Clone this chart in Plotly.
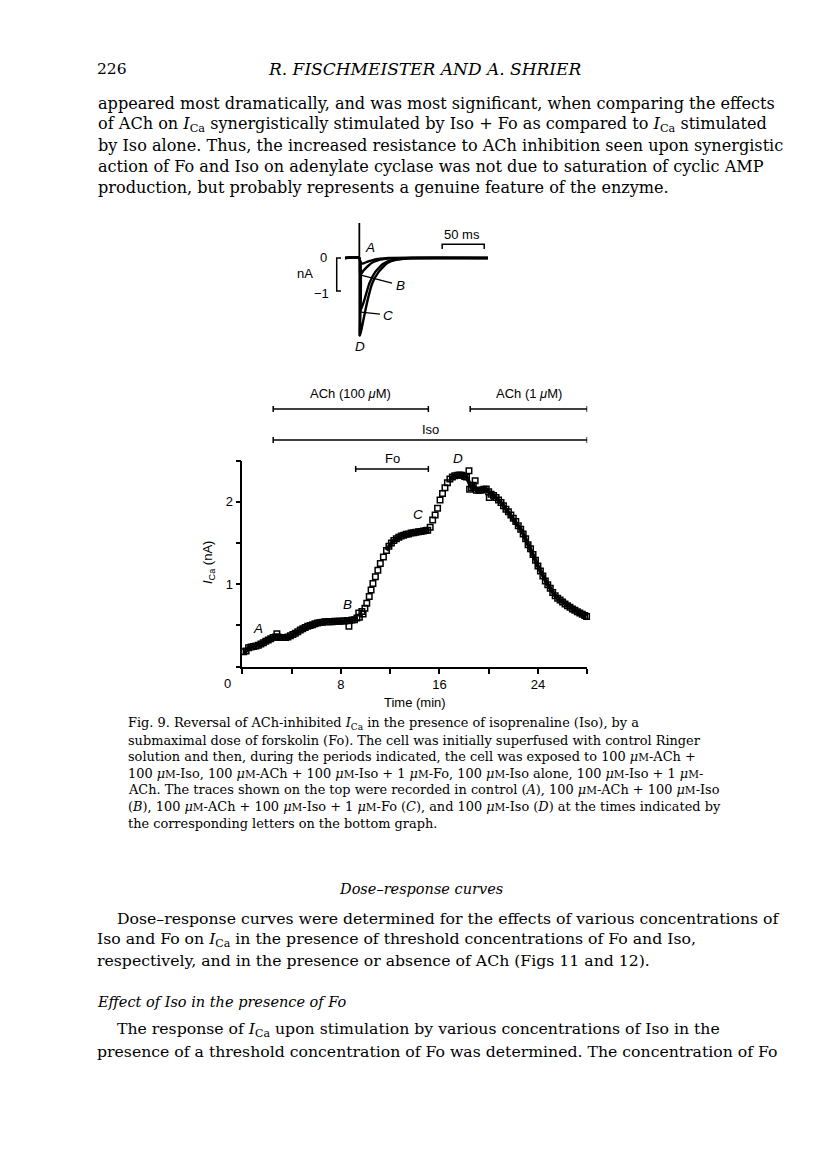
import plotly.graph_objects as go

# the page body keeps its default 8px margin, so the figure is drawn 8px in
OFF = 8
W, H = 816 - OFF, 1170 - OFF


def px(x):
    return (x - OFF) / W


def py(y):
    return 1 - (y - OFF) / H


# ─────────────────────────────────────────────
# Bottom graph: I_Ca (nA) against time (min)
# ─────────────────────────────────────────────
t_control = [0.1, 0.3, 0.5, 0.7, 0.9, 1.1, 1.3, 1.5, 1.7, 1.9, 2.1, 2.3, 2.5]
i_control = [0.18, 0.19, 0.23, 0.24, 0.245, 0.25, 0.26, 0.275, 0.29, 0.31, 0.325, 0.34, 0.355]

t_ach_iso = [2.7, 2.8, 2.9, 3.1, 3.3, 3.5, 3.7, 3.9, 4.1, 4.3, 4.5, 4.7, 4.9, 5.1, 5.3, 5.5,
             5.7, 5.9, 6.1, 6.3, 6.5, 6.7, 6.9, 7.1, 7.3, 7.5, 7.7, 7.9, 8.1, 8.3, 8.5, 8.65,
             8.7, 8.9, 9.1]
i_ach_iso = [0.36, 0.40, 0.36, 0.355, 0.355, 0.355, 0.36, 0.375, 0.39, 0.405, 0.425, 0.445,
             0.46, 0.475, 0.49, 0.50, 0.51, 0.52, 0.53, 0.535, 0.54, 0.545, 0.545, 0.545,
             0.545, 0.55, 0.55, 0.55, 0.555, 0.555, 0.56, 0.49, 0.56, 0.565, 0.57]

t_fo = [9.3, 9.45, 9.5, 9.7, 9.8, 9.95, 10.1, 10.3, 10.45, 10.6, 10.8, 11.0, 11.2, 11.45,
        11.7, 11.9, 12.1, 12.3, 12.5, 12.7, 12.9, 13.1, 13.3, 13.5, 13.7, 13.9, 14.1, 14.3,
        14.5, 14.7, 14.9, 15.05]
i_fo = [0.59, 0.65, 0.60, 0.67, 0.64, 0.71, 0.77, 0.85, 0.93, 1.01, 1.09, 1.17, 1.25, 1.33,
        1.41, 1.46, 1.50, 1.53, 1.55, 1.57, 1.585, 1.595, 1.605, 1.61, 1.62, 1.625, 1.63,
        1.635, 1.64, 1.645, 1.65, 1.655]

t_iso = [15.25, 15.45, 15.65, 15.85, 16.05, 16.25, 16.45, 16.65, 16.85, 17.05, 17.25, 17.45,
         17.65, 17.85, 18.05, 18.2, 18.4, 18.45, 18.6, 18.75, 18.9, 19.0, 19.2, 19.4]
i_iso = [1.69, 1.78, 1.84, 1.92, 2.02, 2.10, 2.17, 2.23, 2.275, 2.30, 2.315, 2.32, 2.325, 2.32,
         2.305, 2.30, 2.375, 2.15, 2.17, 2.20, 2.255, 2.14, 2.14, 2.14]

t_ach1 = [19.6, 19.8, 20.0, 20.05, 20.2, 20.4, 20.6, 20.8, 21.0, 21.2, 21.4, 21.6, 21.8, 22.0,
          22.2, 22.4, 22.6, 22.8, 23.0, 23.2, 23.4, 23.6, 23.8, 24.0, 24.2, 24.4, 24.6, 24.8,
          25.0, 25.2, 25.4, 25.6, 25.8, 26.0, 26.2, 26.4, 26.6, 26.8, 27.0, 27.2, 27.4, 27.6,
          27.8, 27.95]
i_ach1 = [2.15, 2.155, 2.12, 2.05, 2.09, 2.075, 2.05, 2.02, 1.99, 1.95, 1.91, 1.88, 1.84, 1.80,
          1.76, 1.71, 1.665, 1.61, 1.55, 1.48, 1.43, 1.36, 1.29, 1.22, 1.16, 1.10, 1.04, 0.995,
          0.95, 0.90, 0.86, 0.83, 0.81, 0.785, 0.76, 0.74, 0.72, 0.70, 0.685, 0.665, 0.65, 0.635,
          0.62, 0.61]

# stray squares that stand apart from the dense band
outlier_t = [2.8, 8.65, 9.45, 9.7, 18.4, 18.45, 18.9, 20.05]
# fast rises, where the squares are drawn one by one
open_windows = [(9.35, 11.5), (15.1, 16.8)]

x_ticks = [0, 4, 8, 12, 16, 20, 24, 28]
x_ticktext = ["", "", "8", "", "16", "", "24", ""]
y_ticks = [0, 0.5, 1, 1.5, 2, 2.5]
y_ticktext = ["", "", "1", "", "2", ""]

# drug application periods (min)
period_labels = ["ACh (100 <i>μ</i>M)", "ACh (1 <i>μ</i>M)", "Iso", "Fo"]
period_start = [2.5, 18.5, 2.5, 9.2]
period_end = [15.1, 28.0, 28.0, 15.1]

mark_letters = ["A", "B", "C", "D"]

# ─────────────────────────────────────────────
# Inset: membrane current traces (ms, nA)
# ─────────────────────────────────────────────
trace_A_t = [-17, 0, 1, 3, 6, 10, 15, 22, 35, 153]
trace_A_i = [0, 0, -0.10, -0.17, -0.15, -0.11, -0.07, -0.03, 0, 0]
trace_B_t = [-17, 0, 1, 5, 10, 16, 25, 40, 60, 153]
trace_B_i = [0, 0, -0.52, -0.38, -0.25, -0.13, -0.05, -0.01, 0, 0]
trace_C_t = [-17, 0, 1, 6, 12, 19, 28, 40, 60, 153]
trace_C_i = [0, 0, -1.62, -1.27, -0.76, -0.42, -0.18, -0.06, -0.01, 0]
trace_D_t = [-17, 0, 0.8, 4.8, 9.9, 15.5, 23, 33, 45, 64, 153]
trace_D_i = [0, 0, -2.36, -1.88, -1.27, -0.76, -0.42, -0.16, -0.05, 0, 0]
artifact_t = [0, 0]
artifact_i = [1.06, -2.36]

SANS = "Liberation Sans"
SERIF = "DejaVu Serif"

fig = go.Figure()

t_all = t_control + t_ach_iso + t_fo + t_iso + t_ach1
i_all = i_control + i_ach_iso + i_fo + i_iso + i_ach1

# dense part of the record: overlapping squares read as a solid band
band_x, band_y = [], []
for t, v in zip(t_all, i_all):
    if t in outlier_t:
        continue
    if any(a < t < b for a, b in open_windows):
        if band_x and band_x[-1] is not None:
            band_x.append(None)
            band_y.append(None)
        continue
    band_x.append(t)
    band_y.append(v)
fig.add_trace(go.Scatter(x=band_x, y=band_y, mode="lines", connectgaps=False,
                         line=dict(color="black", width=4)))
fig.add_trace(go.Scatter(
    x=t_all, y=i_all, mode="markers", cliponaxis=False,
    marker=dict(symbol="square-open", size=5.5, color="black", line=dict(width=1.5, color="black")),
))

for tt, ii in [(trace_A_t, trace_A_i), (trace_B_t, trace_B_i),
               (trace_C_t, trace_C_i), (trace_D_t, trace_D_i)]:
    fig.add_trace(go.Scatter(
        x=tt, y=ii, mode="lines", xaxis="x2", yaxis="y2", cliponaxis=False,
        line=dict(color="black", width=2.4, shape="spline", smoothing=0.5),
    ))
fig.add_trace(go.Scatter(x=artifact_t, y=artifact_i, mode="lines", xaxis="x2", yaxis="y2",
                         cliponaxis=False, line=dict(color="black", width=1.8)))
# scale bars of the inset: 1 nA and 50 ms
fig.add_trace(go.Scatter(x=[-21.8, -26.9, -26.9, -21.8], y=[0, 0, -1, -1], mode="lines",
                         xaxis="x2", yaxis="y2", cliponaxis=False,
                         line=dict(color="black", width=1.5)))
fig.add_trace(go.Scatter(x=[98.5, 98.5, 148.5, 148.5], y=[0.27, 0.42, 0.42, 0.27], mode="lines",
                         xaxis="x2", yaxis="y2", cliponaxis=False,
                         line=dict(color="black", width=1.5)))
# leader lines for B and C
fig.add_trace(go.Scatter(x=[1.9, 38.9], y=[-0.52, -0.76], mode="lines", xaxis="x2", yaxis="y2",
                         cliponaxis=False, line=dict(color="black", width=1.4)))
fig.add_trace(go.Scatter(x=[2.0, 24.6], y=[-1.64, -1.70], mode="lines", xaxis="x2", yaxis="y2",
                         cliponaxis=False, line=dict(color="black", width=1.4)))

axis_common = dict(
    showline=True, linecolor="black", linewidth=1.6, showgrid=False, zeroline=False,
    ticks="outside", ticklen=5, tickwidth=1.6, tickcolor="black",
    tickfont=dict(family=SANS, size=13, color="black"),
)

fig.update_layout(
    width=W, height=H, margin=dict(l=0, r=0, t=0, b=0),
    paper_bgcolor="white", plot_bgcolor="white", showlegend=False,
    xaxis=dict(domain=[px(242.4), px(587.2)], range=[0, 28], tickmode="array",
               tickvals=x_ticks, ticktext=x_ticktext, anchor="y", **axis_common),
    yaxis=dict(domain=[py(666.7), py(460.5)], range=[0, 2.5], tickmode="array",
               tickvals=y_ticks, ticktext=y_ticktext, anchor="x", **axis_common),
    xaxis2=dict(domain=[px(334.1), px(488)], range=[-30, 153], visible=False, anchor="y2"),
    yaxis2=dict(domain=[py(347.1), py(221.7)], range=[-2.7, 1.1], visible=False, anchor="x2"),
)

# drug bars with end caps
bar_y = [409, 409, 440, 469]
label_y = [394, 394, 429, 458]
for lab, s, e, yb, yl in zip(period_labels, period_start, period_end, bar_y, label_y):
    line = dict(color="black", width=1.5)
    fig.add_shape(type="line", xref="x", yref="paper", x0=s, x1=e, y0=py(yb), y1=py(yb), line=line)
    for xe in (s, e):
        fig.add_shape(type="line", xref="x", yref="paper", x0=xe, x1=xe,
                      y0=py(yb - 3), y1=py(yb + 3), line=line)
    fig.add_annotation(x=(s + e) / 2, y=py(yl), xref="x", yref="paper", text=lab,
                       showarrow=False, xanchor="center", yanchor="middle",
                       font=dict(family=SANS, size=13, color="black"))


def note(text, x, y, size=13, family=SANS, xanchor="center", angle=0):
    fig.add_annotation(x=px(x), y=py(y), xref="paper", yref="paper", text=text,
                       showarrow=False, xanchor=xanchor, yanchor="middle", textangle=angle,
                       font=dict(family=family, size=size, color="black"))


# bottom-graph labels
note("0", 227, 683)
note("Time (min)", 415, 702)
note("<i>I</i><sub>Ca</sub> (nA)", 208, 563, angle=-90)
for lab, (x, y) in zip(mark_letters, [(258, 628), (347, 604), (418, 515), (458, 458)]):
    note(f"<i>{lab}</i>", x, y, size=13.5)

# inset labels
for lab, (x, y) in zip(mark_letters, [(370, 247), (400, 285), (388, 316), (360, 347)]):
    note(f"<i>{lab}</i>", x, y, size=13.5)
note("0", 323, 258)
note("nA", 305, 273)
note("−1", 321, 293)
note("50 ms", 462, 235)

# ─────────────────────────────────────────────
# Page text
# ─────────────────────────────────────────────
ICA = "<i>I</i><sub>Ca</sub>"
note("226", 95, 69, size=15.5, family=SERIF, xanchor="left")
note("<i>R. FISCHMEISTER AND A. SHRIER</i>", 424, 69, size=17, family=SERIF)

body_top = [
    "appeared most dramatically, and was most significant, when comparing the effects",
    f"of ACh on {ICA} synergistically stimulated by Iso + Fo as compared to {ICA} stimulated",
    "by Iso alone. Thus, the increased resistance to ACh inhibition seen upon synergistic",
    "action of Fo and Iso on adenylate cyclase was not due to saturation of cyclic AMP",
    "production, but probably represents a genuine feature of the enzyme.",
]
for line, y in zip(body_top, [103, 124, 145, 166, 187]):
    note(line, 96, y, size=16.1, family=SERIF, xanchor="left")

um = "<i>μ</i><span style='font-size:10.5px'>M</span>"
caption = [
    f"Fig. 9. Reversal of ACh-inhibited {ICA} in the presence of isoprenaline (Iso), by a",
    "submaximal dose of forskolin (Fo). The cell was initially superfused with control Ringer",
    f"solution and then, during the periods indicated, the cell was exposed to 100 {um}-ACh +",
    f"100 {um}-Iso, 100 {um}-ACh + 100 {um}-Iso + 1 {um}-Fo, 100 {um}-Iso alone, 100 {um}-Iso + 1 {um}-",
    f"ACh. The traces shown on the top were recorded in control (<i>A</i>), 100 {um}-ACh + 100 {um}-Iso",
    f"(<i>B</i>), 100 {um}-ACh + 100 {um}-Iso + 1 {um}-Fo (<i>C</i>), and 100 {um}-Iso (<i>D</i>) at the times indicated by",
    "the corresponding letters on the bottom graph.",
]
for line, y in zip(caption, [723, 740, 756, 773, 789, 806, 823]):
    note(line, 126, y, size=12.9, family=SERIF, xanchor="left")

note("<i>Dose–response curves</i>", 421, 889, size=14.5, family=SERIF)
body_bottom = [
    ("Dose–response curves were determined for the effects of various concentrations of", 115, 918),
    (f"Iso and Fo on {ICA} in the presence of threshold concentrations of Fo and Iso,", 95, 939),
    ("respectively, and in the presence or absence of ACh (Figs 11 and 12).", 95, 960),
    ("<i>Effect of Iso in the presence of Fo</i>", 95, 1002),
    (f"The response of {ICA} upon stimulation by various concentrations of Iso in the", 115, 1030),
    ("presence of a threshold concentration of Fo was determined. The concentration of Fo", 95, 1051),
]
for line, x, y in body_bottom:
    size = 14.5 if line.startswith("<i>") else 15.7
    note(line, x, y, size=size, family=SERIF, xanchor="left")

fig.write_html("out.html")
